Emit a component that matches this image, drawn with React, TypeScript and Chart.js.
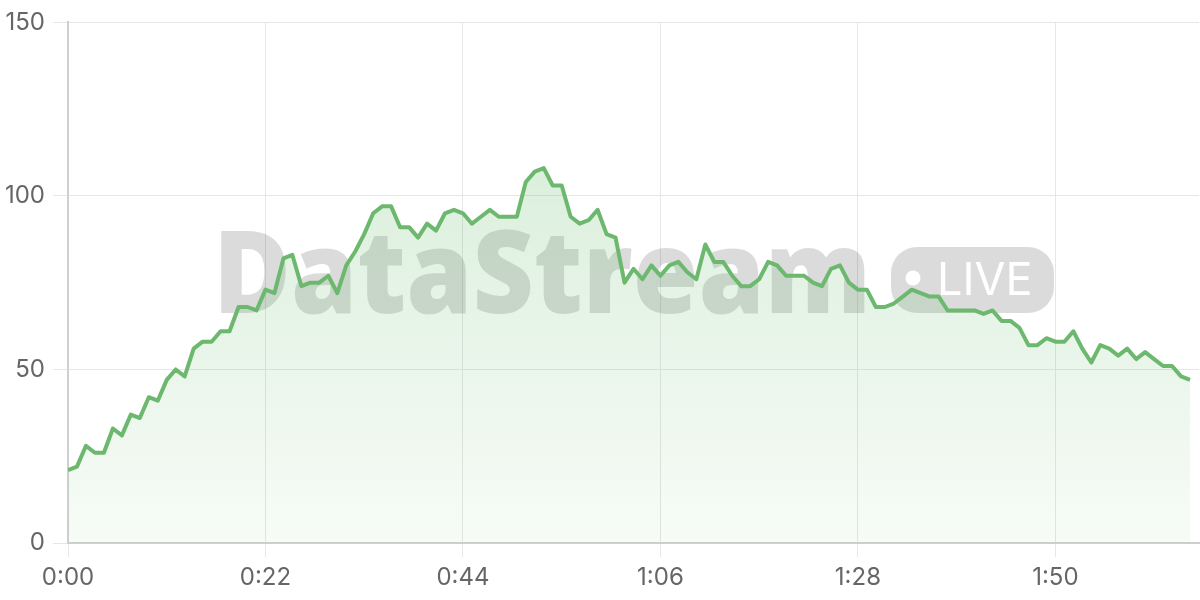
import React, { useEffect, useRef } from "react";
import { Chart, registerables } from "chart.js";

Chart.register(...registerables);

// One sample per second starting at 0:00
const values: number[] = [
  21, 22, 28, 26, 26, 33, 31, 37, 36, 42,
  41, 47, 50, 48, 56, 58, 58, 61, 61, 68,
  68, 67, 73, 72, 82, 83, 74, 75, 75, 77,
  72, 80, 84, 89, 95, 97, 97, 91, 91, 88,
  92, 90, 95, 96, 95, 92, 94, 96, 94, 94,
  94, 104, 107, 108, 103, 103, 94, 92, 93, 96,
  89, 88, 75, 79, 76, 80, 77, 80, 81, 78,
  76, 86, 81, 81, 77, 74, 74, 76, 81, 80,
  77, 77, 77, 75, 74, 79, 80, 75, 73, 73,
  68, 68, 69, 71, 73, 72, 71, 71, 67, 67,
  67, 67, 66, 67, 64, 64, 62, 57, 57, 59,
  58, 58, 61, 56, 52, 57, 56, 54, 56, 53,
  55, 53, 51, 51, 48, 47,
];
const sampleSeconds: number[] = values.map((_, i) => i);
const xMax = 126;
const xStep = 22;
const yTicks: number[] = [0, 50, 100, 150];
const watermarkTitle = "DataStream";
const watermarkBadge = "LIVE";

const LINE = "rgb(108, 184, 111)";

function fmtTime(s: number): string {
  const m = Math.floor(s / 60);
  const sec = Math.round(s % 60);
  return `${m}:${sec < 10 ? "0" : ""}${sec}`;
}

const watermarkPlugin = {
  id: "watermark",
  beforeDatasetsDraw(chart: any) {
    const { ctx, chartArea } = chart;
    const cx = (chartArea.left + chartArea.right) / 2;
    const baseline = 313;
    ctx.save();
    ctx.fillStyle = "rgba(0,0,0,0.14)";
    ctx.font = '800 116px "Open Sans"';
    ctx.textBaseline = "alphabetic";
    const tw = Math.min(658, ctx.measureText(watermarkTitle).width);
    const gap = 20;
    const pillW = 163;
    const pillH = 66;
    const total = tw + gap + pillW;
    const x0 = cx - total / 2;
    ctx.fillText(watermarkTitle, x0, baseline, tw);
    const px = x0 + tw + gap;
    const py = baseline - pillH;
    ctx.beginPath();
    ctx.roundRect(px, py, pillW, pillH, 26);
    ctx.fill();
    ctx.fillStyle = "#ffffff";
    ctx.beginPath();
    ctx.arc(px + 22, py + 31, 7.5, 0, Math.PI * 2);
    ctx.fill();
    ctx.font = '400 45px "Inter"';
    ctx.fillText(watermarkBadge, px + 46, baseline - 18);
    ctx.restore();
  },
};

export default function App() {
  const ref = useRef<HTMLCanvasElement | null>(null);
  useEffect(() => {
    if (!ref.current) return;
    const chart = new Chart(ref.current, {
      type: "line",
      data: {
        datasets: [
          {
            data: values.map((v, i) => ({ x: sampleSeconds[i], y: v })),
            borderColor: LINE,
            borderWidth: 4,
            pointRadius: 0,
            tension: 0,
            borderJoinStyle: "round",
            fill: "origin",
            backgroundColor: (c: any) => {
              const area = c.chart.chartArea;
              if (!area) return "rgba(102,187,106,0.15)";
              const g = c.chart.ctx.createLinearGradient(0, area.top, 0, area.bottom);
              g.addColorStop(0, "rgba(102,187,106,0.30)");
              g.addColorStop(1, "rgba(102,187,106,0.05)");
              return g;
            },
          },
        ],
      },
      options: {
        animation: false,
        responsive: true,
        maintainAspectRatio: false,
        layout: { padding: { top: 20, right: 1, left: 0, bottom: 0 } },
        plugins: { legend: { display: false }, tooltip: { enabled: false } },
        scales: {
          x: {
            type: "linear",
            min: 0,
            max: xMax,
            afterFit: (s: any) => {
              s.height = 57;
            },
            ticks: {
              stepSize: xStep,
              includeBounds: false,
              autoSkip: false,
              maxRotation: 0,
              color: "#666",
              padding: 6,
              font: { family: "Inter", size: 24 },
              callback: (v: any) => fmtTime(Number(v)),
            },
            grid: { color: "#e6e6e6", lineWidth: 1, tickLength: 14 },
            border: { color: "#cfcfcf", width: 2 },
          },
          y: {
            min: yTicks[0],
            max: yTicks[yTicks.length - 1],
            afterFit: (s: any) => {
              s.width = 68;
            },
            ticks: {
              stepSize: yTicks[1] - yTicks[0],
              color: "#666",
              padding: 8,
              font: { family: "Inter", size: 24 },
            },
            grid: { color: "#e6e6e6", lineWidth: 1, tickLength: 15 },
            border: { color: "#cfcfcf", width: 2 },
          },
        },
      },
      plugins: [watermarkPlugin],
    } as any);
    return () => chart.destroy();
  }, []);
  return (
    <div style={{ position: "fixed", left: 0, top: 0, width: 1200, height: 600, background: "#fff" }}>
      <canvas ref={ref} />
    </div>
  );
}
